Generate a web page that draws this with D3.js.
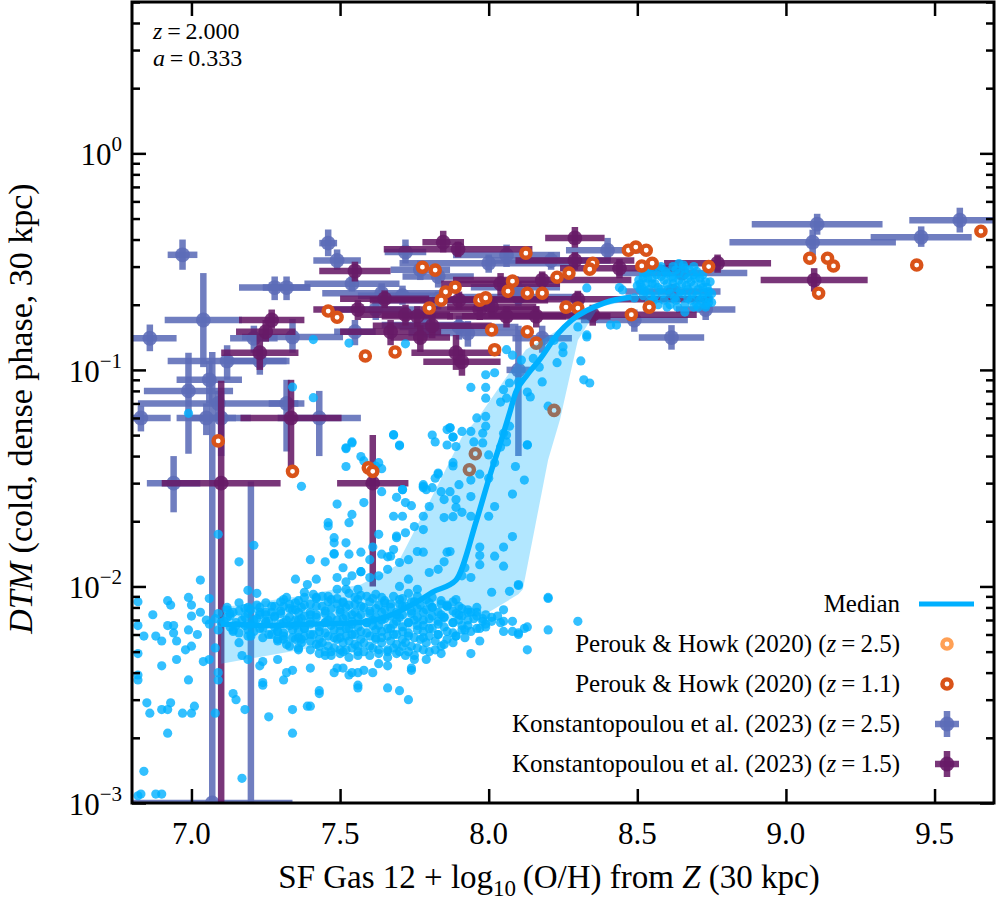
<!DOCTYPE html>
<html>
<head>
<meta charset="utf-8">
<script src="https://cdn.jsdelivr.net/npm/d3@7"></script>
<style>
body { margin: 0; background: #fff; }
text { font-family: "Liberation Serif", "Times New Roman", serif; fill: #000; }
</style>
</head>
<body>
<svg id="chart" width="996" height="900"></svg>
<script>
// ---- data ----
var xTicks = [7.0, 7.5, 8.0, 8.5, 9.0, 9.5]
var yMajor = [1e-3, 1e-2, 1e-1, 1]
var yMajorLabels = ['\u22123', '\u22122', '\u22121', '0']

// simulation galaxies (x = 12+log O/H, y = DTM)
var simLow = [
 [6.82,0.0037],[6.99,0.0037],[7.09,0.0037],[7.24,0.0035],[7.31,0.0037],[7.14,0.0032],[7.15,0.0030],[7.43,0.0032],
 [7.56,0.0034],[7.66,0.0034],[7.70,0.0033],[7.73,0.0030],[6.85,0.0029],[6.86,0.0026],[6.90,0.0027],[6.92,0.0027],
 [6.93,0.0029],[6.97,0.0026],[7.00,0.0026],[7.01,0.0028],[7.08,0.0026],[7.18,0.0027],[7.26,0.0025],[7.34,0.0027],
 [7.39,0.0028],[7.34,0.0021],[6.92,0.0021],[6.84,0.0014],[7.17,0.0013],[6.82,0.00108],[6.83,0.0011],[6.88,0.0011],
 [6.90,0.0011],[7.37,0.029],[7.09,0.0174],[7.21,0.0155],[7.16,0.013],[7.03,0.0107],[7.19,0.0096],[7.22,0.0093],
 [6.82,0.0085],[6.92,0.0086],[6.93,0.0082],[6.99,0.0089],[7.0,0.0082],[7.06,0.0088],[6.87,0.0074],[6.82,0.0066],
 [6.84,0.0059],[6.92,0.0066],[6.94,0.0066],[6.94,0.0061],[6.88,0.0059],[6.90,0.0056],[6.95,0.0056],[6.99,0.0063],
 [7.0,0.0073],[7.02,0.0060],[6.98,0.0051],[7.0,0.0053],[7.03,0.0076],[7.05,0.0070],[7.04,0.0045],[6.95,0.0046],
 [6.9,0.0043],[6.82,0.0049],[6.82,0.0039],[7.06,0.0046],[7.09,0.0040],[7.08,0.0052],[7.12,0.0078],[7.13,0.0075],
 [7.16,0.0084],[7.19,0.0080],[7.14,0.0063],[7.16,0.0055],[7.20,0.0059],[7.17,0.0048],[7.19,0.0046],[7.23,0.0043],
 [7.24,0.0045],[7.24,0.0036],[7.23,0.0076],[7.25,0.0069],[7.27,0.0076],[7.29,0.0062],[7.29,0.0046],[7.31,0.0081],
 [7.32,0.0089],[7.34,0.0078],[7.35,0.0108],[7.38,0.0094],[7.42,0.0108],[7.42,0.0089],[7.39,0.0102],[7.36,0.0070],
 [7.37,0.0057],[7.36,0.0051],[7.31,0.0057],[7.33,0.0053],[7.32,0.0040],[7.34,0.0041],[7.40,0.0042],[7.43,0.0033],
 [7.45,0.0048],[7.49,0.0042],[7.56,0.0040],[7.58,0.0041],[7.54,0.0040],[7.56,0.0035],[7.74,0.0042],[7.56,0.0050],
 [7.51,0.0050],[7.40,0.0028],[7.48,0.0040],[7.51,0.0042],[7.53,0.0039],[7.47,0.0050],[7.61,0.0040],[7.63,0.0044],
 [7.66,0.0043],[7.66,0.0050],[7.70,0.0050],[7.74,0.0041],[7.75,0.0046],[7.79,0.0046],[7.80,0.0050],[7.84,0.0049],
 [7.84,0.0053],[7.94,0.0049],[7.97,0.0056]
]
var simCore = [
 [7.41,0.0092],[7.46,0.0090],[7.53,0.0093],[7.57,0.0091],[7.62,0.0092],[7.68,0.0090],[7.73,0.0093],
 [7.31,0.0087],[7.36,0.0086],[7.42,0.0088],[7.47,0.0087],[7.51,0.0085],[7.56,0.0087],[7.61,0.0088],[7.65,0.0086],
 [7.70,0.0087],[7.74,0.0085],[7.79,0.0087],[7.84,0.0086],
 [7.22,0.0082],[7.27,0.0081],[7.33,0.0083],[7.38,0.0082],[7.44,0.0081],[7.49,0.0083],[7.53,0.0082],[7.58,0.0080],
 [7.63,0.0082],[7.67,0.0083],[7.72,0.0081],[7.77,0.0082],[7.81,0.0080],[7.86,0.0082],[7.90,0.0081],
 [7.16,0.0077],[7.20,0.0078],[7.25,0.0076],[7.30,0.0077],[7.35,0.0078],[7.40,0.0076],[7.45,0.0077],[7.50,0.0078],
 [7.55,0.0076],[7.60,0.0077],[7.65,0.0078],[7.69,0.0076],[7.74,0.0077],[7.79,0.0078],[7.83,0.0076],[7.88,0.0077],[7.93,0.0076],
 [7.13,0.0073],[7.18,0.0072],[7.23,0.0074],[7.28,0.0073],[7.33,0.0072],[7.38,0.0073],[7.42,0.0074],[7.47,0.0072],
 [7.52,0.0073],[7.57,0.0074],[7.62,0.0072],[7.67,0.0073],[7.71,0.0074],[7.76,0.0072],[7.81,0.0073],[7.85,0.0072],
 [7.90,0.0074],[7.96,0.0073],
 [7.11,0.0069],[7.15,0.0068],[7.21,0.0070],[7.26,0.0069],[7.31,0.0068],[7.35,0.0070],[7.40,0.0069],[7.45,0.0068],
 [7.49,0.0070],[7.54,0.0069],[7.59,0.0068],[7.64,0.0070],[7.69,0.0069],[7.73,0.0068],[7.78,0.0070],[7.83,0.0069],
 [7.88,0.0068],[7.93,0.0070],[7.98,0.0069],
 [7.13,0.0065],[7.18,0.0066],[7.23,0.0064],[7.28,0.0065],[7.33,0.0066],[7.38,0.0064],[7.43,0.0065],[7.47,0.0066],
 [7.52,0.0064],[7.56,0.0065],[7.61,0.0066],[7.66,0.0064],[7.71,0.0065],[7.76,0.0066],[7.80,0.0064],[7.85,0.0065],
 [7.91,0.0066],[7.96,0.0064],
 [7.16,0.0061],[7.21,0.0062],[7.26,0.0060],[7.31,0.0061],[7.36,0.0062],[7.40,0.0060],[7.45,0.0061],[7.50,0.0062],
 [7.54,0.0060],[7.59,0.0061],[7.64,0.0062],[7.68,0.0060],[7.73,0.0061],[7.78,0.0062],[7.83,0.0060],[7.88,0.0061],[7.94,0.0062],
 [7.24,0.0058],[7.29,0.0057],[7.34,0.0058],[7.38,0.0059],[7.43,0.0057],[7.48,0.0058],[7.52,0.0059],[7.57,0.0057],
 [7.62,0.0058],[7.66,0.0059],[7.71,0.0057],[7.75,0.0058],[7.80,0.0059],[7.86,0.0057],[7.92,0.0058],
 [7.32,0.0054],[7.37,0.0055],[7.42,0.0054],[7.46,0.0053],[7.51,0.0055],[7.55,0.0054],[7.60,0.0053],[7.64,0.0055],
 [7.69,0.0054],[7.74,0.0053],[7.79,0.0055],[7.85,0.0054],
 [7.40,0.0051],[7.45,0.0050],[7.50,0.0051],[7.54,0.0052],[7.58,0.0050],[7.63,0.0051],[7.68,0.0052],[7.73,0.0050],[7.78,0.0051],
 [7.47,0.0048],[7.53,0.0047],[7.60,0.0048],[7.66,0.0047],[7.72,0.0048]
]
var simCore2 = [
 [7.38,0.0089],[7.44,0.0090],[7.49,0.0088],[7.55,0.0089],[7.59,0.0090],[7.64,0.0089],[7.71,0.0088],[7.76,0.0090],[7.81,0.0089],
 [7.25,0.0084],[7.30,0.0085],[7.35,0.0084],[7.40,0.0083],[7.46,0.0085],[7.51,0.0084],[7.55,0.0083],[7.60,0.0085],
 [7.65,0.0084],[7.70,0.0083],[7.75,0.0085],[7.80,0.0084],[7.84,0.0083],[7.88,0.0085],
 [7.12,0.0080],[7.18,0.0079],[7.23,0.0080],[7.28,0.0081],[7.33,0.0079],[7.37,0.0080],[7.42,0.0081],[7.47,0.0079],
 [7.52,0.0080],[7.57,0.0081],[7.62,0.0079],[7.67,0.0080],[7.71,0.0081],[7.76,0.0079],[7.81,0.0080],[7.86,0.0081],
 [7.91,0.0079],[7.96,0.0080],
 [7.09,0.0075],[7.14,0.0076],[7.19,0.0075],[7.25,0.0074],[7.30,0.0075],[7.36,0.0076],[7.40,0.0074],[7.45,0.0075],
 [7.50,0.0076],[7.54,0.0074],[7.60,0.0075],[7.64,0.0076],[7.69,0.0074],[7.74,0.0075],[7.78,0.0076],[7.84,0.0074],
 [7.89,0.0075],[7.94,0.0076],[7.99,0.0074],
 [7.08,0.0071],[7.12,0.0072],[7.17,0.0070],[7.22,0.0071],[7.28,0.0072],[7.32,0.0070],[7.37,0.0071],[7.42,0.0072],
 [7.46,0.0070],[7.51,0.0071],[7.56,0.0072],[7.61,0.0070],[7.65,0.0071],[7.70,0.0072],[7.75,0.0070],[7.80,0.0071],
 [7.85,0.0072],[7.90,0.0070],[7.95,0.0071],[8.01,0.0072],
 [7.06,0.0067],[7.10,0.0068],[7.15,0.0066],[7.20,0.0067],[7.25,0.0068],[7.30,0.0067],[7.35,0.0066],[7.40,0.0067],
 [7.45,0.0068],[7.50,0.0066],[7.54,0.0067],[7.59,0.0068],[7.63,0.0066],[7.68,0.0067],[7.73,0.0068],[7.78,0.0066],
 [7.83,0.0067],[7.88,0.0068],[7.93,0.0066],[7.99,0.0067],[8.04,0.0068],
 [7.09,0.0063],[7.14,0.0062],[7.19,0.0063],[7.24,0.0064],[7.29,0.0062],[7.34,0.0063],[7.38,0.0064],[7.43,0.0062],
 [7.48,0.0063],[7.53,0.0064],[7.57,0.0062],[7.62,0.0063],[7.67,0.0064],[7.71,0.0062],[7.76,0.0063],[7.81,0.0064],
 [7.86,0.0062],[7.91,0.0063],[7.97,0.0064],
 [7.19,0.0059],[7.27,0.0060],[7.31,0.0059],[7.36,0.0058],[7.41,0.0060],[7.46,0.0059],[7.50,0.0058],[7.55,0.0060],
 [7.60,0.0059],[7.64,0.0058],[7.69,0.0060],[7.73,0.0059],[7.78,0.0058],[7.83,0.0060],[7.89,0.0059],
 [7.29,0.0056],[7.35,0.0057],[7.40,0.0056],[7.44,0.0055],[7.49,0.0057],[7.53,0.0056],[7.58,0.0055],[7.62,0.0057],
 [7.67,0.0056],[7.72,0.0055],[7.77,0.0057],[7.82,0.0056],[7.88,0.0055],
 [7.36,0.0052],[7.43,0.0053],[7.48,0.0052],[7.52,0.0051],[7.56,0.0053],[7.61,0.0052],[7.66,0.0051],[7.71,0.0053],
 [7.76,0.0052],[7.82,0.0051],
 [7.43,0.0049],[7.50,0.0049],[7.56,0.0048],[7.63,0.0049],[7.69,0.0049],[7.75,0.0048]
]
var simRise = [
 [7.46,0.0197],[7.40,0.0133],[7.45,0.013],[7.49,0.024],[7.48,0.0142],[7.48,0.0159],[7.52,0.0159],[7.53,0.0141],
 [7.53,0.0197],[7.54,0.0215],[7.58,0.0244],[7.51,0.0122],[7.49,0.011],[7.52,0.0097],[7.56,0.0097],[7.60,0.011],
 [7.57,0.0117],[7.60,0.0133],[7.64,0.0141],[7.66,0.0137],[7.68,0.0148],[7.66,0.0120],[7.69,0.0171],[7.72,0.0177],
 [7.64,0.0274],[7.69,0.0258],[7.71,0.028],[7.68,0.0211],[7.71,0.0211],[7.74,0.0236],[7.78,0.0211],[7.78,0.0286],
 [7.75,0.0189],[7.78,0.0183],[7.73,0.0108],[7.76,0.0097],[7.70,0.0100],[7.57,0.0144],[7.68,0.0502],[7.70,0.0446],
 [7.52,0.0433],[7.54,0.0465],[7.63,0.0373],[7.57,0.0398],[7.52,0.0358],[7.46,0.019],[7.48,0.0168],[7.48,0.0141],
 [7.61,0.0152],[7.63,0.0112],[7.63,0.0174],[7.69,0.0168],[7.72,0.0244],[7.80,0.0234],[7.78,0.0295],[7.79,0.028],
 [7.81,0.0286],[7.84,0.0274],[7.85,0.0252],[7.87,0.0274],[7.89,0.0252],[7.89,0.0232],[7.91,0.0220],[7.94,0.0211],
 [7.85,0.0208],[7.88,0.021],[7.82,0.0316],[7.83,0.0334],[7.88,0.0373],[7.90,0.0295],[7.94,0.031],[7.94,0.026],
 [7.81,0.050],[7.88,0.049],[7.89,0.0443],[7.86,0.053],[7.91,0.052],[7.94,0.052],[7.98,0.051],[7.98,0.046],
 [7.95,0.0465],[7.99,0.055],[8.05,0.051],[8.06,0.0465],[8.07,0.055],[8.0,0.0405],[8.02,0.0373],[7.97,0.033],
 [8.0,0.0316],[8.02,0.0234],[8.0,0.0211],[8.08,0.0267],[8.13,0.0451],[8.09,0.0358],[8.12,0.031],[8.08,0.017],
 [8.05,0.0152],[8.02,0.0138],[8.05,0.0124],[7.97,0.0152],[7.97,0.0126],[7.97,0.0139],[7.94,0.011],[7.92,0.0122],
 [7.91,0.0112],[7.86,0.0144],[7.87,0.0145],[7.85,0.013],[7.83,0.012],[7.80,0.0116],[7.78,0.0144],[7.76,0.0145],
 [7.73,0.0133],[7.70,0.0129],[7.67,0.0138],[7.57,0.0117],[7.54,0.0112],[7.52,0.0105],[7.49,0.0097],
 [8.01,0.0094],[8.07,0.0095],[8.10,0.0102],[8.05,0.0078],[8.08,0.0069],[8.05,0.0069],[8.10,0.0061],[8.13,0.0065],
 [8.13,0.0051],[8.20,0.0089],[8.20,0.0063],[8.30,0.0069],[7.99,0.0065],[8.01,0.0069],[8.03,0.0073],[7.98,0.0071],
 [7.93,0.0078],[7.96,0.0076],[7.91,0.0073],[7.92,0.0063],[7.89,0.0059],[7.89,0.0087],[7.86,0.0081],[8.10,0.0101],
 [8.20,0.0088],[8.05,0.0062],[8.08,0.0062],[8.12,0.0064],[8.10,0.0060]
]
var simHigh = [
 [8.06,0.124],[8.08,0.117],[8.11,0.111],[8.15,0.113],[8.17,0.103],[8.18,0.088],[8.23,0.108],[8.25,0.120],
 [8.25,0.128],[8.33,0.142],[7.99,0.095],[8.02,0.097],[7.94,0.083],[7.99,0.083],[7.99,0.074],[8.04,0.071],
 [8.06,0.074],[8.07,0.087],[8.13,0.079],[8.14,0.075],[8.13,0.045],[8.20,0.068],[7.87,0.054],[7.99,0.061],
 [7.96,0.060],[8.05,0.081],[8.10,0.088],[8.06,0.050],[8.04,0.044],[8.22,0.137],[8.30,0.158],[8.34,0.087],
 [8.41,0.161],[8.30,0.193],[8.43,0.161],[8.33,0.239],[8.44,0.24],[8.45,0.234],[8.49,0.215],[8.33,0.145],
 [8.32,0.09],[8.31,0.11],[7.41,0.138],[7.53,0.133],[7.72,0.132],[7.34,0.0834],[7.41,0.0744],[6.99,0.063],
 [7.52,0.0437],[7.54,0.046],[7.68,0.050],[7.70,0.045],[7.82,0.0465],[7.87,0.054],[7.86,0.045],[7.88,0.049],
 [7.88,0.036],[7.83,0.033],[7.78,0.029],[7.71,0.028],[7.58,0.038],[7.62,0.036],[7.64,0.035]
]
var simBlob = [
 [8.51,0.25],[8.51,0.235],[8.52,0.265],[8.52,0.22],[8.53,0.28],[8.53,0.25],[8.54,0.235],[8.54,0.205],
 [8.55,0.29],[8.55,0.265],[8.56,0.25],[8.56,0.22],[8.57,0.2],[8.58,0.3],[8.58,0.27],[8.58,0.235],
 [8.59,0.21],[8.6,0.28],[8.6,0.25],[8.61,0.225],[8.61,0.2],[8.62,0.3],[8.62,0.265],[8.63,0.24],
 [8.63,0.21],[8.64,0.31],[8.64,0.28],[8.65,0.25],[8.65,0.225],[8.66,0.2],[8.66,0.295],[8.67,0.265],
 [8.67,0.235],[8.68,0.21],[8.69,0.3],[8.69,0.275],[8.69,0.245],[8.7,0.22],[8.7,0.2],[8.71,0.265],
 [8.72,0.24],[8.72,0.215],[8.73,0.195],[8.74,0.23],[8.74,0.205],[8.73,0.255],
 [8.50,0.245],[8.505,0.26],[8.515,0.24],[8.52,0.28],[8.525,0.23],[8.535,0.265],[8.54,0.29],[8.545,0.22],
 [8.55,0.25],[8.555,0.21],[8.565,0.275],[8.57,0.24],[8.575,0.295],[8.585,0.225],[8.59,0.26],[8.595,0.285],
 [8.6,0.195],[8.605,0.235],[8.615,0.27],[8.62,0.25],[8.625,0.215],[8.63,0.29],[8.635,0.195],[8.64,0.26],
 [8.645,0.23],[8.655,0.305],[8.66,0.275],[8.665,0.245],[8.67,0.215],[8.675,0.29],[8.68,0.255],[8.685,0.225],
 [8.69,0.195],[8.695,0.265],[8.70,0.285],[8.705,0.235],[8.71,0.21],[8.715,0.25],[8.72,0.275],[8.725,0.225],
 [8.73,0.2],[8.735,0.24],[8.74,0.215],[8.745,0.255],[8.75,0.225],[8.75,0.205],[8.705,0.195],[8.66,0.185]
]

// running median and 16-84 band
var medianX = [7.10, 7.25, 7.40, 7.55, 7.65, 7.76, 7.81, 7.89, 7.96, 8.01, 8.035, 8.07, 8.09, 8.13, 8.17, 8.235, 8.28, 8.39, 8.48]
var medianY = [0.0067, 0.0066, 0.0067, 0.0068, 0.0072, 0.0085, 0.0094, 0.0107, 0.0204, 0.0346, 0.044, 0.063, 0.078, 0.095, 0.111, 0.148, 0.170, 0.204, 0.217]
var bandUpX = [7.10, 7.36, 7.57, 7.69, 7.80, 7.91, 7.96, 8.035, 8.125, 8.25, 8.37, 8.48]
var bandUpY = [0.0080, 0.0090, 0.0102, 0.0125, 0.0245, 0.049, 0.059, 0.083, 0.124, 0.158, 0.200, 0.220]
var bandLoX = [7.10, 7.33, 7.565, 7.83, 8.00, 8.10, 8.115, 8.20, 8.24, 8.30, 8.37, 8.48]
var bandLoY = [0.0044, 0.0050, 0.0057, 0.0067, 0.0076, 0.0092, 0.0097, 0.0385, 0.059, 0.137, 0.195, 0.210]

// Peroux & Howk (2020): [x, y]
var perouk25 = []   // none fall inside the plotted window
var perouk11 = [
 [7.09,0.047],[7.34,0.034],[7.46,0.187],[7.49,0.175],[7.585,0.116],[7.685,0.121],[7.595,0.0353],[7.61,0.034],
 [7.777,0.298],[7.82,0.289],[7.855,0.229],[7.887,0.241],[7.84,0.21],[7.80,0.193],[7.97,0.21],[7.99,0.215],
 [8.01,0.153],[8.02,0.124],[8.08,0.257],[8.065,0.231],[8.125,0.346],[8.13,0.226],[8.18,0.226],[8.13,0.15],
 [8.23,0.268],[8.27,0.28],[8.35,0.311],[8.34,0.292],[8.26,0.195],[8.30,0.193],[8.47,0.357],[8.495,0.369],
 [8.53,0.357],[8.515,0.302],[8.55,0.311],[8.54,0.195],[8.48,0.18],[9.08,0.328],[9.11,0.226],[9.14,0.328],
 [9.16,0.302],[9.44,0.305],[9.656,0.437],[8.74,0.30],[8.16,0.133],[7.955,0.041],[7.935,0.0346],[8.22,0.065]
]

// Konstantopoulou et al. (2023): [x, xerr, y, yerr-, yerr+]
var konst25 = [
 [6.97,0.05,0.34,0.05,0.06],[7.46,0.03,0.385,0.05,0.06],[7.49,0.08,0.32,0.03,0.04],[7.28,0.12,0.24,0.03,0.03],
 [7.32,0.08,0.24,0.03,0.03],[7.04,0.13,0.17,0.067,0.11],[6.86,0.09,0.14,0.018,0.022],[7.54,0.16,0.25,0.02,0.02],
 [7.72,0.07,0.35,0.04,0.05],[7.55,0.07,0.15,0.02,0.02],[7.34,0.17,0.142,0.022,0.03],[7.21,0.08,0.14,0.02,0.02],
 [7.12,0.20,0.11,0.02,0.02],[7.23,0.10,0.11,0.015,0.015],[6.99,0.15,0.08,0.039,0.04],[7.06,0.11,0.09,0.02,0.02],
 [7.09,0.27,0.07,0.01,0.01],[6.83,0.10,0.06,0.008,0.008],[7.05,0.10,0.06,0.01,0.01],[7.10,0.10,0.06,0.02,0.02],
 [7.43,0.14,0.06,0.02,0.02],[7.32,0.06,0.07,0.028,0.02],[6.94,0.09,0.03,0.008,0.01],[7.07,0.27,0.001,0.001,0.12],
 [7.20,0.06,0.0005,0.0005,0.03],[7.77,0.10,0.29,0.03,0.03],[7.83,0.12,0.27,0.03,0.03],[7.64,0.20,0.226,0.025,0.025],
 [7.71,0.15,0.22,0.02,0.025],[7.62,0.15,0.19,0.02,0.02],[7.83,0.20,0.21,0.02,0.02],[7.79,0.15,0.161,0.02,0.02],
 [7.90,0.20,0.158,0.02,0.02],[7.93,0.20,0.148,0.02,0.02],[8.06,0.18,0.339,0.04,0.04],[8.00,0.30,0.311,0.03,0.03],
 [8.09,0.15,0.241,0.03,0.03],[8.10,0.20,0.217,0.02,0.02],[8.18,0.10,0.14,0.02,0.02],[8.21,0.20,0.32,0.03,0.03],
 [9.105,0.22,0.471,0.05,0.055],[9.585,0.17,0.491,0.06,0.07],[9.455,0.17,0.41,0.04,0.05],[9.09,0.28,0.389,0.05,0.055],
 [8.615,0.11,0.141,0.017,0.02],[8.49,0.18,0.17,0.02,0.02],[8.40,0.14,0.357,0.04,0.05],[8.73,0.10,0.19,0.02,0.03],
 [8.65,0.22,0.28,0.02,0.02],[8.62,0.16,0.23,0.02,0.02],[8.10,0.04,0.10,0.06,0.06]
]
var konst15 = [
 [7.847,0.07,0.389,0.04,0.05],[7.897,0.25,0.361,0.03,0.03],[7.55,0.12,0.286,0.03,0.03],[7.65,0.15,0.213,0.02,0.02],
 [7.56,0.15,0.19,0.02,0.02],[7.72,0.15,0.18,0.02,0.02],[7.76,0.12,0.177,0.02,0.02],[7.67,0.17,0.15,0.02,0.02],
 [7.81,0.20,0.16,0.02,0.02],[7.77,0.10,0.141,0.02,0.02],[7.89,0.15,0.12,0.02,0.025],[7.91,0.13,0.109,0.015,0.015],
 [8.04,0.20,0.25,0.03,0.03],[7.97,0.20,0.19,0.02,0.02],[8.01,0.15,0.195,0.02,0.02],[8.06,0.20,0.177,0.02,0.02],
 [8.18,0.30,0.26,0.025,0.025],[8.16,0.25,0.177,0.02,0.02],[7.90,0.30,0.21,0.02,0.02],[8.29,0.10,0.407,0.04,0.05],
 [8.29,0.20,0.32,0.03,0.03],[8.44,0.20,0.295,0.03,0.03],[9.095,0.18,0.26,0.03,0.035],[8.77,0.18,0.311,0.03,0.03],
 [7.27,0.11,0.17,0.015,0.02],[7.25,0.10,0.15,0.015,0.02],[7.23,0.13,0.12,0.02,0.025],[7.10,0.20,0.030,0.03,0.059],
 [7.335,0.17,0.060,0.025,0.03],[7.61,0.12,0.030,0.02,0.02],[8.30,0.45,0.212,0.02,0.02],[8.35,0.35,0.18,0.02,0.02]
]

// ---- layout ----
var margin = {top: 2, right: 2, bottom: 97, left: 132},
  width = 996 - margin.left - margin.right,
  height = 900 - margin.top - margin.bottom

var cBlue = '#00b0ff', cK25 = '#5c6cb7', cK15 = '#661a66', cP11 = '#d95319', cP25 = '#ffa055'

var svg = d3.select('#chart')
var g = svg.append('g').attr('transform', 'translate(' + margin.left + ',' + margin.top + ')')

var x = d3.scaleLinear().domain([6.8, 9.7]).range([0, width])
var y = d3.scaleLog().domain([1e-3, 5]).range([height, 0])
var yv = v => y(Math.max(v, 1e-5))

g.append('clipPath').attr('id', 'clip')
  .append('rect').attr('width', width).attr('height', height)
var plot = g.append('g').attr('clip-path', 'url(#clip)')

// error bars
function drawKonst(data, col) {
  var grp = plot.append('g')
  data.forEach(d => {
    grp.append('line')
      .attr('x1', x(d[0] - d[1])).attr('x2', x(d[0] + d[1]))
      .attr('y1', y(d[2])).attr('y2', y(d[2]))
      .attr('stroke', col).attr('stroke-width', 6.5).attr('stroke-opacity', 0.88)
    grp.append('line')
      .attr('x1', x(d[0])).attr('x2', x(d[0]))
      .attr('y1', yv(d[2] - d[3])).attr('y2', yv(d[2] + d[4]))
      .attr('stroke', col).attr('stroke-width', 6.5).attr('stroke-opacity', 0.88)
    grp.append('circle')
      .attr('cx', x(d[0])).attr('cy', y(d[2])).attr('r', 7.4)
      .attr('fill', col).attr('fill-opacity', 0.88)
  })
}
drawKonst(konst25, cK25)
drawKonst(konst15, cK15)

// simulation scatter
var sim = simLow.concat(simCore, simCore2, simRise, simHigh, simBlob)
plot.append('g').selectAll('circle')
  .data(sim)
  .enter()
  .append('circle')
    .attr('cx', d => x(d[0]))
    .attr('cy', d => y(d[1]))
    .attr('r', 4.6)
    .attr('fill', cBlue)
    .attr('fill-opacity', 0.8)

// Peroux & Howk rings
function drawRings(data, col) {
  plot.append('g').selectAll('circle')
    .data(data)
    .enter()
    .append('circle')
      .attr('cx', d => x(d[0]))
      .attr('cy', d => y(d[1]))
      .attr('r', 4.6)
      .attr('fill', '#fff')
      .attr('stroke', col)
      .attr('stroke-width', 4.4)
}
drawRings(perouk25, cP25)
drawRings(perouk11, cP11)

// percentile band + median
var bandPts = bandUpX.map((v, i) => [v, bandUpY[i]])
  .concat(bandLoX.map((v, i) => [v, bandLoY[i]]).reverse())
plot.append('path')
  .attr('d', d3.line().x(d => x(d[0])).y(d => y(d[1]))(bandPts) + 'Z')
  .attr('fill', cBlue).attr('fill-opacity', 0.3)

plot.append('path')
  .datum(medianX.map((v, i) => [v, medianY[i]]))
  .attr('d', d3.line().curve(d3.curveMonotoneX).x(d => x(d[0])).y(d => y(d[1])))
  .attr('fill', 'none').attr('stroke', cBlue).attr('stroke-width', 5.5)
  .attr('stroke-linejoin', 'round')

// ---- axes (inward ticks on all sides) ----
var yMinor = []
for (var e = -3; e <= 0; e++) for (var m = 2; m <= 9; m++) {
  var v = m * Math.pow(10, e)
  if (v <= 5) yMinor.push(v)
}

function styleAxis(sel) {
  sel.select('.domain').remove()
  sel.selectAll('.tick line').attr('stroke', '#000').attr('stroke-width', 2.5)
  sel.selectAll('.tick text').remove()
}
g.append('g').attr('transform', 'translate(0,' + height + ')')
  .call(d3.axisBottom(x).tickValues(xTicks).tickSize(-14)).call(styleAxis)
g.append('g')
  .call(d3.axisTop(x).tickValues(xTicks).tickSize(-14)).call(styleAxis)
g.append('g').call(d3.axisLeft(y).tickValues(yMajor).tickSize(-14)).call(styleAxis)
g.append('g').call(d3.axisLeft(y).tickValues(yMinor).tickSize(-8)).call(styleAxis)
g.append('g').attr('transform', 'translate(' + width + ',0)')
  .call(d3.axisRight(y).tickValues(yMajor).tickSize(-14)).call(styleAxis)
g.append('g').attr('transform', 'translate(' + width + ',0)')
  .call(d3.axisRight(y).tickValues(yMinor).tickSize(-8)).call(styleAxis)

g.append('rect').attr('width', width).attr('height', height)
  .attr('fill', 'none').attr('stroke', '#000').attr('stroke-width', 3)

// tick labels
g.selectAll('.xlab').data(xTicks).enter().append('text')
  .attr('x', d => x(d)).attr('y', height + 41)
  .attr('text-anchor', 'middle').style('font-size', '31px')
  .text(d => d.toFixed(1))

yMajor.forEach((v, i) => {
  var t = g.append('text').attr('x', -10).attr('y', y(v) + 12)
    .attr('text-anchor', 'end').style('font-size', '31px')
  t.append('tspan').text('10')
  t.append('tspan').attr('dy', -14).style('font-size', '21px').text(yMajorLabels[i])
})

// axis titles
var xt = g.append('text').attr('x', width / 2 - 14).attr('y', height + 85)
  .attr('text-anchor', 'middle').style('font-size', '33px')
xt.append('tspan').text('SF Gas 12 + log')
xt.append('tspan').attr('dy', 8).style('font-size', '23px').text('10')
xt.append('tspan').attr('dy', -8).text('\u2009(O/H) from ')
xt.append('tspan').style('font-style', 'italic').text('Z')
xt.append('tspan').text(' (30 kpc)')

var yt = g.append('text')
  .attr('transform', 'translate(' + (-100) + ',' + (height / 2 + 6) + ') rotate(-90)')
  .attr('text-anchor', 'middle').style('font-size', '34px')
yt.append('tspan').style('font-style', 'italic').text('DTM')
yt.append('tspan').text(' (cold, dense phase, 30 kpc)')

// redshift annotation
var ann = [['z', '2.000'], ['a', '0.333']]
ann.forEach((d, i) => {
  var t = g.append('text').attr('x', 21).attr('y', 37 + i * 27).style('font-size', '24px')
  t.append('tspan').style('font-style', 'italic').text(d[0])
  t.append('tspan').text('\u2009=\u2009' + d[1])
})

// ---- legend ----
var legItems = [
  {label: ['Median'], type: 'line', col: cBlue},
  {label: ['Perouk & Howk (2020) (', 'z', '\u2009=\u20092.5)'], type: 'ring', col: cP25},
  {label: ['Perouk & Howk (2020) (', 'z', '\u2009=\u20091.1)'], type: 'ring', col: cP11},
  {label: ['Konstantopoulou et al. (2023) (', 'z', '\u2009=\u20092.5)'], type: 'err', col: cK25},
  {label: ['Konstantopoulou et al. (2023) (', 'z', '\u2009=\u20091.5)'], type: 'err', col: cK15}
]
var leg = g.append('g')
legItems.forEach((d, i) => {
  var cy = 602 + i * 40
  var t = leg.append('text').attr('x', 768).attr('y', cy + 8)
    .attr('text-anchor', 'end').style('font-size', '25px')
  d.label.forEach((s, j) => {
    t.append('tspan').style('font-style', j == 1 ? 'italic' : 'normal').text(s)
  })
  var mx = 815
  if (d.type == 'line') {
    leg.append('line').attr('x1', mx - 28).attr('x2', mx + 27).attr('y1', cy).attr('y2', cy)
      .attr('stroke', d.col).attr('stroke-width', 5)
  } else if (d.type == 'ring') {
    leg.append('circle').attr('cx', mx).attr('cy', cy).attr('r', 4.6)
      .attr('fill', '#fff').attr('stroke', d.col).attr('stroke-width', 4.4)
  } else {
    leg.append('line').attr('x1', mx - 12).attr('x2', mx + 12).attr('y1', cy).attr('y2', cy)
      .attr('stroke', d.col).attr('stroke-width', 6.5).attr('stroke-opacity', 0.88)
    leg.append('line').attr('x1', mx).attr('x2', mx).attr('y1', cy - 13).attr('y2', cy + 13)
      .attr('stroke', d.col).attr('stroke-width', 6.5).attr('stroke-opacity', 0.88)
    leg.append('circle').attr('cx', mx).attr('cy', cy).attr('r', 7.4)
      .attr('fill', d.col).attr('fill-opacity', 0.88)
  }
})
</script>
</body>
</html>
